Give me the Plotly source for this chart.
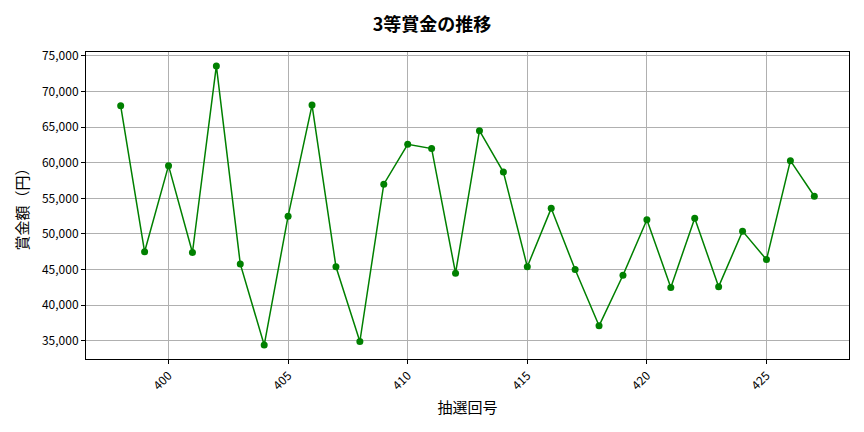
import plotly.graph_objects as go

draws = list(range(398, 428))
prize = [68000, 47500, 59600, 47400, 73600, 45800, 34400, 52500, 68100, 45400,
         34900, 57000, 62600, 62000, 44500, 64500, 58700, 45400, 53600, 45000,
         37100, 44200, 52000, 42500, 52200, 42600, 50400, 46400, 60300, 55300]

title_text = "3等賞金の推移"
x_title = "抽選回号"
y_title = "賞金額（円）"

FONT = "Noto Sans CJK JP"

fig = go.Figure()
fig.add_trace(go.Scatter(
    x=draws, y=prize, mode="lines+markers",
    line=dict(color="green", width=1.5),
    marker=dict(color="green", size=7),
    showlegend=False,
))

fig.update_layout(
    width=864, height=432,
    margin=dict(l=86, r=15, t=52, b=73, autoexpand=False),
    paper_bgcolor="white", plot_bgcolor="white",
    font=dict(family=FONT, color="black", size=12),
    title=dict(text=title_text, x=0.5, xanchor="center", y=0.942, yanchor="middle",
               font=dict(family=FONT, size=18, color="black", weight="bold")),
)
fig.update_xaxes(
    range=[396.55, 428.45], tickmode="linear", tick0=400, dtick=5,
    tickangle=-45, ticks="outside", ticklen=4, tickcolor="black",
    showgrid=True, gridcolor="#b0b0b0", gridwidth=1,
    showline=True, linecolor="black", linewidth=1, mirror=True,
    zeroline=False, automargin=False,
    title=dict(text=x_title, font=dict(family=FONT, size=15), standoff=10),
    tickfont=dict(size=12),
)
fig.update_yaxes(
    range=[32440, 75560], tickmode="linear", tick0=35000, dtick=5000,
    tickformat=",d", ticks="outside", ticklen=4, tickcolor="black",
    showgrid=True, gridcolor="#b0b0b0", gridwidth=1,
    showline=True, linecolor="black", linewidth=1, mirror=True,
    zeroline=False, automargin=False,
    title=dict(text=y_title, font=dict(family=FONT, size=15), standoff=9),
    tickfont=dict(size=12),
)

fig.write_html("out.html", config={"displayModeBar": False},
               post_script="document.body.style.margin='0';")
